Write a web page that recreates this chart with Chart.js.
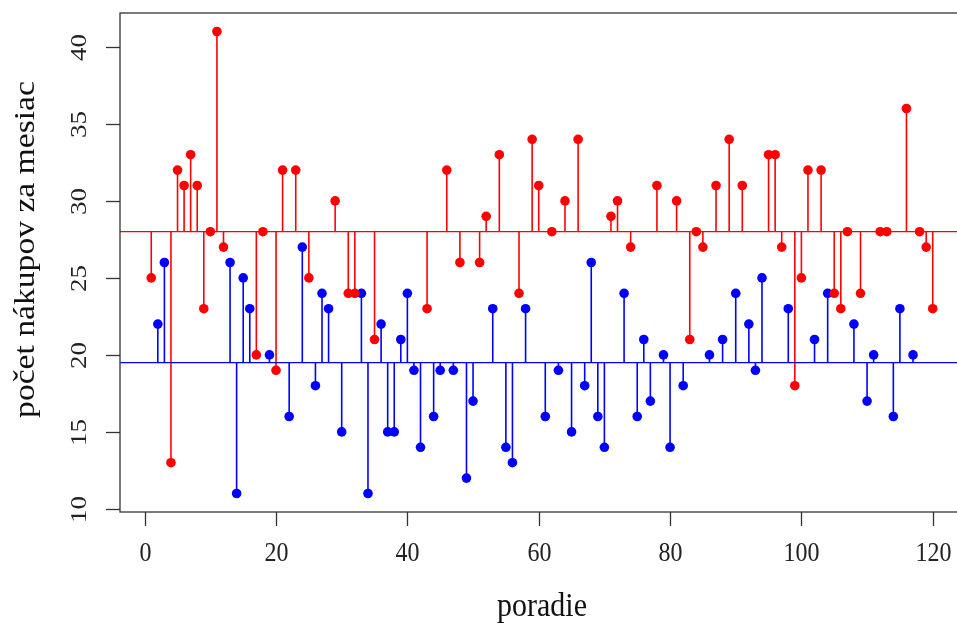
<!DOCTYPE html>
<html>
<head>
<meta charset="utf-8">
<script src="https://cdn.jsdelivr.net/npm/chart.js@4/dist/chart.umd.min.js"></script>
<style>
html,body{margin:0;padding:0;overflow:hidden;background:#fff;}
#wrap{width:970px;height:625px;}
</style>
</head>
<body>
<div id="wrap"><canvas id="c" width="970" height="625"></canvas></div>
<script>
// ---- data ----
const cerveneX = [1,4,5,6,7,8,9,10,11,12,17,18,20,21,23,25,29,31,32,35,43,46,48,51,52,54,57,59,60,62,64,66,71,72,74,78,81,83,84,85,87,89,91,95,96,97,99,100,101,103,105,106,107,109,112,113,116,118,119,120];
const cerveneY = [25,13,32,31,33,31,23,28,41,27,20,28,19,32,32,25,30,24,24,21,23,32,26,26,29,33,24,34,31,28,30,34,29,30,27,31,30,21,28,27,31,34,31,33,33,27,18,25,32,32,24,23,28,24,28,28,36,28,27,23];
const modreX = [2,3,13,14,15,16,19,22,24,26,27,28,30,33,34,36,37,38,39,40,41,42,44,45,47,49,50,53,55,56,58,61,63,65,67,68,69,70,73,75,76,77,79,80,82,86,88,90,92,93,94,98,102,104,108,110,111,114,115,117];
const modreY = [22,26,26,11,25,23,20,16,27,18,24,23,15,24,11,22,15,15,21,24,19,14,16,19,19,12,17,23,14,13,23,16,19,15,18,26,16,14,24,16,21,17,20,14,18,20,21,24,22,19,25,23,21,24,22,17,20,16,23,20];
const zakladCervena = 28;
const zakladModra = 19.5;
const xTicks = [0,20,40,60,80,100,120];
const yTicks = [10,15,20,25,30,35,40];
const xTitle = 'poradie';
const yTitle = 'počet nákupov za mesiac';

const RED = '#ff0000', BLUE = '#0000ff';
const toPts = (xs, ys) => xs.map((x, i) => ({x: x, y: ys[i]}));

const stemPlugin = {
  id: 'stems',
  beforeDatasetsDraw(chart) {
    const ctx = chart.ctx, xs = chart.scales.x, ys = chart.scales.y, a = chart.chartArea;
    ctx.save();
    ctx.beginPath(); ctx.rect(a.left, a.top, a.right - a.left, a.bottom - a.top); ctx.clip();
    const groups = [[cerveneX, cerveneY, zakladCervena, RED], [modreX, modreY, zakladModra, BLUE]];
    groups.forEach(([gx, gy, base, col]) => {
      const yb = ys.getPixelForValue(base);
      ctx.strokeStyle = col; ctx.lineWidth = 1.3;
      ctx.beginPath(); ctx.moveTo(a.left, yb); ctx.lineTo(a.right, yb); ctx.stroke();
      ctx.lineWidth = 1.6;
      gx.forEach((x, i) => {
        const px = xs.getPixelForValue(x);
        ctx.beginPath(); ctx.moveTo(px, yb); ctx.lineTo(px, ys.getPixelForValue(gy[i])); ctx.stroke();
      });
    });
    ctx.restore();
  }
};

const axesPlugin = {
  id: 'rAxes',
  afterDraw(chart) {
    const ctx = chart.ctx, xs = chart.scales.x, ys = chart.scales.y, a = chart.chartArea;
    ctx.save();
    ctx.strokeStyle = '#333'; ctx.lineWidth = 1.3;
    ctx.strokeRect(a.left, a.top, a.right - a.left, a.bottom - a.top);
    ctx.fillStyle = '#222';
    ctx.font = '24px "Liberation Serif", "DejaVu Serif", serif';
    // x ticks
    xTicks.forEach(v => {
      const px = Math.round(xs.getPixelForValue(v)) + 0.5;
      ctx.beginPath(); ctx.moveTo(px, a.bottom); ctx.lineTo(px, a.bottom + 14); ctx.stroke();
      ctx.save(); ctx.translate(px, 554); ctx.scale(1, 1.1);
      ctx.textAlign = 'center'; ctx.textBaseline = 'middle';
      ctx.fillText(String(v), 0, 0);
      ctx.restore();
    });
    // y ticks
    yTicks.forEach(v => {
      const py = Math.round(ys.getPixelForValue(v)) + 0.5;
      ctx.beginPath(); ctx.moveTo(a.left, py); ctx.lineTo(a.left - 14, py); ctx.stroke();
      ctx.save(); ctx.translate(80, py); ctx.rotate(-Math.PI / 2); ctx.scale(1.12, 1);
      ctx.textAlign = 'center'; ctx.textBaseline = 'middle';
      ctx.fillText(String(v), 0, 0);
      ctx.restore();
    });
    // titles
    ctx.fillStyle = '#111';
    ctx.font = '30px "Liberation Serif", "DejaVu Serif", serif';
    ctx.textAlign = 'center'; ctx.textBaseline = 'middle';
    ctx.save(); ctx.translate((a.left + a.right) / 2, 607); ctx.scale(1, 1.1);
    ctx.fillText(xTitle, 0, 0);
    ctx.restore();
    ctx.save(); ctx.translate(26, (a.top + a.bottom) / 2 - 13); ctx.rotate(-Math.PI / 2); ctx.scale(1.12, 1);
    ctx.fillText(yTitle, 0, 0);
    ctx.restore();
    ctx.restore();
  }
};

new Chart(document.getElementById('c'), {
  type: 'scatter',
  data: {
    datasets: [
      {label: 'A', data: toPts(cerveneX, cerveneY), backgroundColor: RED, borderColor: RED, pointRadius: 4.8, borderWidth: 0},
      {label: 'B', data: toPts(modreX, modreY), backgroundColor: BLUE, borderColor: BLUE, pointRadius: 4.8, borderWidth: 0}
    ]
  },
  options: {
    responsive: false,
    animation: false,
    devicePixelRatio: 1,
    layout: {padding: {left: 120, top: 13, right: 6, bottom: 113}},
    plugins: {legend: {display: false}, tooltip: {enabled: false}},
    scales: {
      x: {type: 'linear', min: -3.76, max: 124.76, display: false},
      y: {type: 'linear', min: 9.8, max: 42.2, display: false}
    }
  },
  plugins: [stemPlugin, axesPlugin]
});
</script>
</body>
</html>
